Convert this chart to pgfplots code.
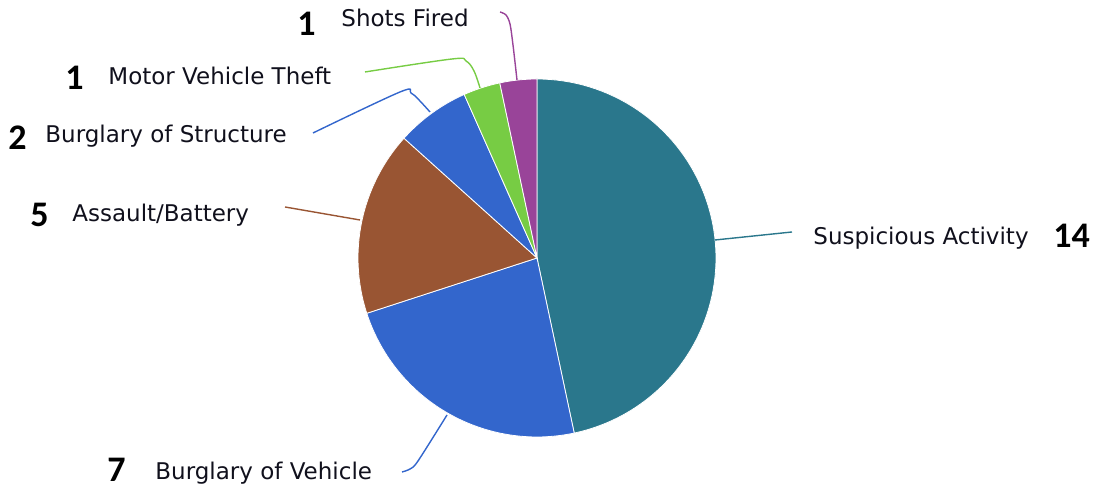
\documentclass[border=0pt]{standalone}
\usepackage{pgfplots}
\pgfplotsset{compat=1.18}
\usepackage{pgfplotstable}
\usepackage{fontspec}
\setmainfont{DejaVu Sans}
\newfontfamily\numfont{Carlito}
\definecolor{cSA}{HTML}{2A778C}
\definecolor{cBV}{HTML}{3366CC}
\definecolor{cAB}{HTML}{995533}
\definecolor{cBS}{HTML}{3366CC}
\definecolor{cMV}{HTML}{77CC44}
\definecolor{cSF}{HTML}{994499}
\definecolor{txt}{HTML}{10101C}

\pgfplotstableread{
label value
SuspiciousActivity 14
BurglaryOfVehicle 7
AssaultBattery 5
BurglaryOfStructure 2
MotorVehicleTheft 1
ShotsFired 1
}\pietable

\begin{document}
\begin{tikzpicture}
\pgfplotstablegetelem{0}{value}\of\pietable\let\vA\pgfplotsretval
\pgfplotstablegetelem{1}{value}\of\pietable\let\vB\pgfplotsretval
\pgfplotstablegetelem{2}{value}\of\pietable\let\vC\pgfplotsretval
\pgfplotstablegetelem{3}{value}\of\pietable\let\vD\pgfplotsretval
\pgfplotstablegetelem{4}{value}\of\pietable\let\vE\pgfplotsretval
\pgfplotstablegetelem{5}{value}\of\pietable\let\vF\pgfplotsretval
\pgfmathsetmacro\tot{\vA+\vB+\vC+\vD+\vE+\vF}
\pgfmathsetmacro\aA{90-360*(\vA)/\tot}
\pgfmathsetmacro\aB{\aA-360*(\vB)/\tot}
\pgfmathsetmacro\aC{\aB-360*(\vC)/\tot}
\pgfmathsetmacro\aD{\aC-360*(\vD)/\tot}
\pgfmathsetmacro\aE{\aD-360*(\vE)/\tot}
\pgfmathsetmacro\aF{\aE-360*(\vF)/\tot}
\def\cx{537}\def\cy{232}\def\R{179}
\begin{axis}[scale only axis, width=548.5pt, height=245pt,
  xmin=0, xmax=1097, ymin=0, ymax=490, hide axis, clip=false]
\addplot[fill=cSA, draw=white, line width=0.4pt, domain=\aA:90, samples=80] ({\cx+\R*cos(x)},{\cy+\R*sin(x)}) -- (axis cs:\cx,\cy) -- cycle;
\addplot[fill=cBV, draw=white, line width=0.4pt, domain=\aB:\aA, samples=50] ({\cx+\R*cos(x)},{\cy+\R*sin(x)}) -- (axis cs:\cx,\cy) -- cycle;
\addplot[fill=cAB, draw=white, line width=0.4pt, domain=\aC:\aB, samples=40] ({\cx+\R*cos(x)},{\cy+\R*sin(x)}) -- (axis cs:\cx,\cy) -- cycle;
\addplot[fill=cBS, draw=white, line width=0.4pt, domain=\aD:\aC, samples=20] ({\cx+\R*cos(x)},{\cy+\R*sin(x)}) -- (axis cs:\cx,\cy) -- cycle;
\addplot[fill=cMV, draw=white, line width=0.4pt, domain=\aE:\aD, samples=12] ({\cx+\R*cos(x)},{\cy+\R*sin(x)}) -- (axis cs:\cx,\cy) -- cycle;
\addplot[fill=cSF, draw=white, line width=0.4pt, domain=\aF:\aE, samples=12] ({\cx+\R*cos(x)},{\cy+\R*sin(x)}) -- (axis cs:\cx,\cy) -- cycle;
% leader lines
\addplot[cSF, line width=0.7pt, smooth, tension=0.5] coordinates {(500,478) (506,475) (510,466) (513,445) (517,410)};
\addplot[cMV, line width=0.7pt, smooth, tension=0.6] coordinates {(365,418) (452,431) (466,429) (474,419) (480,402)};
\addplot[cBS, line width=0.7pt, smooth, tension=0.6] coordinates {(313,357) (400,398) (411,397) (419,390) (430,378)};
\addplot[cAB, line width=0.7pt] coordinates {(285,283) (360,270)};
\addplot[cSA, line width=0.7pt] coordinates {(715,250) (792,258)};
\addplot[cBV, line width=0.7pt, smooth, tension=0.5] coordinates {(402,18) (410,21) (418,29) (447,75)};
% labels
\tikzset{lab/.style={anchor=base west, inner sep=0pt, text=txt, font=\fontsize{11.5}{13}\selectfont},
         num/.style={anchor=base west, inner sep=0pt, text=black, font=\numfont\bfseries\fontsize{18}{20}\selectfont}}
\node[lab] at (axis cs:341,463) {Shots Fired};
\node[num] at (axis cs:297,454) {1};
\node[lab] at (axis cs:108,405) {Motor Vehicle Theft};
\node[num] at (axis cs:65,400) {1};
\node[lab] at (axis cs:45,347) {Burglary of Structure};
\node[num] at (axis cs:8,340) {2};
\node[lab] at (axis cs:72,268) {Assault/Battery};
\node[num] at (axis cs:30,263) {5};
\node[lab] at (axis cs:813,245) {Suspicious Activity};
\node[num] at (axis cs:1053,242) {14};
\node[lab] at (axis cs:155,10) {Burglary of Vehicle};
\node[num] at (axis cs:107,8) {7};
\end{axis}
\pgfresetboundingbox
\path[use as bounding box] (current axis.south west) rectangle (current axis.north east);
\end{tikzpicture}
\end{document}
